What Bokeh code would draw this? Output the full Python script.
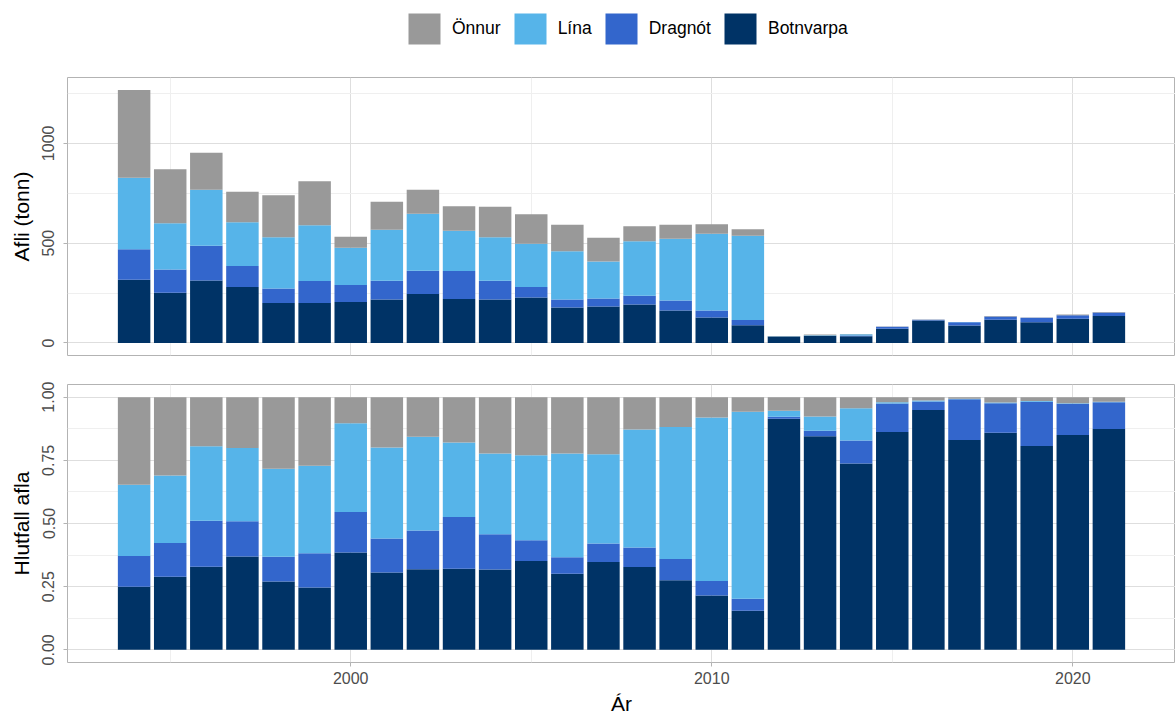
import pandas as pd
from bokeh.plotting import figure
from bokeh.layouts import column
from bokeh.models import ColumnDataSource, FixedTicker, Legend, LegendItem, Range1d
from bokeh.embed import file_html
from bokeh.resources import INLINE

# ---------------- data ----------------
years = list(range(1994, 2022))
botnvarpa = [317, 252, 313, 280, 200, 200, 205, 217, 245, 220, 217, 227, 178, 183,
             192, 163, 128, 88, 32.0, 35.5, 33.2, 71.5, 112, 87.2, 116, 103.3, 120.7, 135.5]
dragnot = [153, 116, 174, 105, 73, 110, 85, 95, 117, 140, 95, 53, 39, 39,
           45, 50, 34, 27, 0.3, 0.9, 4.1, 9.3, 4.0, 16.9, 15.8, 22.4, 17.6, 16.4]
lina = [358, 232, 281, 220, 257, 280, 187, 255, 285, 202, 218, 217, 243, 186,
        273, 309, 385, 422, 0.8, 2.4, 5.7, 0.4, 0.4, 0.2, 0.4, 0.3, 0.3, 0.3]
onnur = [439, 270, 185, 152, 210, 220, 55, 141, 120, 123, 152, 148, 132, 119,
         75, 70, 48, 33, 1.9, 3.2, 2.0, 1.7, 1.6, 0.7, 2.8, 2.0, 3.4, 2.8]

series_keys = ["botnvarpa", "dragnot", "lina", "onnur"]
series_labels = ["Botnvarpa", "Dragnót", "Lína", "Önnur"]
series_colors = ["#003366", "#3366CC", "#56B4E9", "#999999"]

top_ticks = [0, 500, 1000]
top_tick_labels = ["0", "500", "1000"]
top_minor = [250, 750, 1250]
bot_ticks = [0, 0.25, 0.5, 0.75, 1.0]
bot_tick_labels = ["0.00", "0.25", "0.50", "0.75", "1.00"]
bot_minor = [0.125, 0.375, 0.625, 0.875]
x_ticks = [2000, 2010, 2020]
x_minor = [1995, 2005, 2015]

df = pd.DataFrame({"year": years, "botnvarpa": botnvarpa, "dragnot": dragnot,
                   "lina": lina, "onnur": onnur})
total = df[series_keys].sum(axis=1)
dfp = df.copy()
for k in series_keys:
    dfp[k] = df[k] / total

src_abs = ColumnDataSource(df)
src_rel = ColumnDataSource(dfp)

FONT = "Liberation Sans"
x_range = Range1d(1992.155, 2022.845)


def style(p, yticks, ylabels, yminor, ylabel):
    p.background_fill_color = "white"
    p.border_fill_color = "white"
    p.outline_line_color = "#B3B3B3"
    p.outline_line_width = 1
    p.xgrid.ticker = FixedTicker(ticks=x_ticks, minor_ticks=x_minor)
    p.ygrid.ticker = FixedTicker(ticks=yticks, minor_ticks=yminor)
    for g in (p.xgrid, p.ygrid):
        g.grid_line_color = "#DEDEDE"
        g.grid_line_width = 1
        g.minor_grid_line_color = "#EFEFEF"
        g.minor_grid_line_width = 1
    ax = p.yaxis[0]
    ax.ticker = FixedTicker(ticks=yticks, minor_ticks=yminor)
    ax.major_label_overrides = dict(zip(yticks, ylabels))
    ax.major_label_orientation = "vertical"
    ax.major_label_text_font = FONT
    ax.major_label_text_font_size = "16px"
    ax.major_label_text_color = "#4D4D4D"
    ax.major_label_standoff = 9
    ax.major_tick_out = 4
    ax.major_tick_in = 0
    ax.major_tick_line_color = "#B3B3B3"
    ax.minor_tick_out = 0
    ax.minor_tick_in = 0
    ax.axis_line_color = None
    ax.axis_label = ylabel
    ax.axis_label_text_font = FONT
    ax.axis_label_text_font_size = "21px"
    ax.axis_label_text_font_style = "normal"
    ax.axis_label_text_color = "black"
    ax.axis_label_standoff = 7
    xa = p.xaxis[0]
    xa.ticker = FixedTicker(ticks=x_ticks, minor_ticks=x_minor)
    xa.major_label_text_font = FONT
    xa.major_label_text_font_size = "16px"
    xa.major_label_text_color = "#4D4D4D"
    xa.major_label_standoff = 5
    xa.major_tick_out = 4
    xa.major_tick_in = 0
    xa.major_tick_line_color = "#B3B3B3"
    xa.minor_tick_out = 0
    xa.minor_tick_in = 0
    xa.axis_line_color = None


# ---------------- legend strip ----------------
leg = figure(frame_width=1108, frame_height=77, x_range=Range1d(0, 1),
             y_range=Range1d(0, 1), output_backend="svg", toolbar_location=None,
             min_border_left=67, min_border_right=0, min_border_top=0,
             min_border_bottom=0)
leg.axis.visible = False
leg.grid.visible = False
leg.outline_line_color = None
leg.background_fill_color = "white"
leg.border_fill_color = "white"
# same stacked series (outside this strip's visible range) serve as legend keys
swatches = leg.vbar_stack(series_keys, x="year", width=0.9, color=series_colors,
                          line_alpha=0, source=src_abs)
legend = Legend(
    items=[LegendItem(label=series_labels[i], renderers=[swatches[i]]) for i in [3, 2, 1, 0]],
    orientation="horizontal", location=(337, 29),
    glyph_width=40, glyph_height=39, label_height=39,
    label_standoff=8, spacing=9, padding=0, margin=0,
    border_line_alpha=0, background_fill_alpha=0,
    label_text_font=FONT, label_text_font_size="17.5px", label_text_color="black")
leg.add_layout(legend, "center")

# ---------------- top panel ----------------
top = figure(frame_width=1108, frame_height=278, x_range=x_range,
             y_range=Range1d(-63, 1330), output_backend="svg",
             toolbar_location=None, min_border_left=67, min_border_right=0,
             min_border_top=0, min_border_bottom=6)
style(top, top_ticks, top_tick_labels, top_minor, "Afli (tonn)")
top.xaxis.visible = False
top.vbar_stack(series_keys, x="year", width=0.9, color=series_colors,
               line_alpha=0, source=src_abs)

# ---------------- bottom panel ----------------
bot = figure(frame_width=1108, frame_height=278, x_range=x_range,
             y_range=Range1d(-0.05, 1.05), output_backend="svg",
             toolbar_location=None, min_border_left=67, min_border_right=0,
             min_border_top=23, min_border_bottom=0)
style(bot, bot_ticks, bot_tick_labels, bot_minor, "Hlutfall afla")
bot.xaxis.axis_label = "Ár"
bot.xaxis.axis_label_text_font = FONT
bot.xaxis.axis_label_text_font_size = "21px"
bot.xaxis.axis_label_text_font_style = "normal"
bot.xaxis.axis_label_text_color = "black"
bot.xaxis.axis_label_standoff = 5
bot.vbar_stack(series_keys, x="year", width=0.9, color=series_colors,
               line_alpha=0, source=src_rel)

layout = column(leg, top, bot, spacing=0)
open("out.html", "w").write(file_html(layout, INLINE))
